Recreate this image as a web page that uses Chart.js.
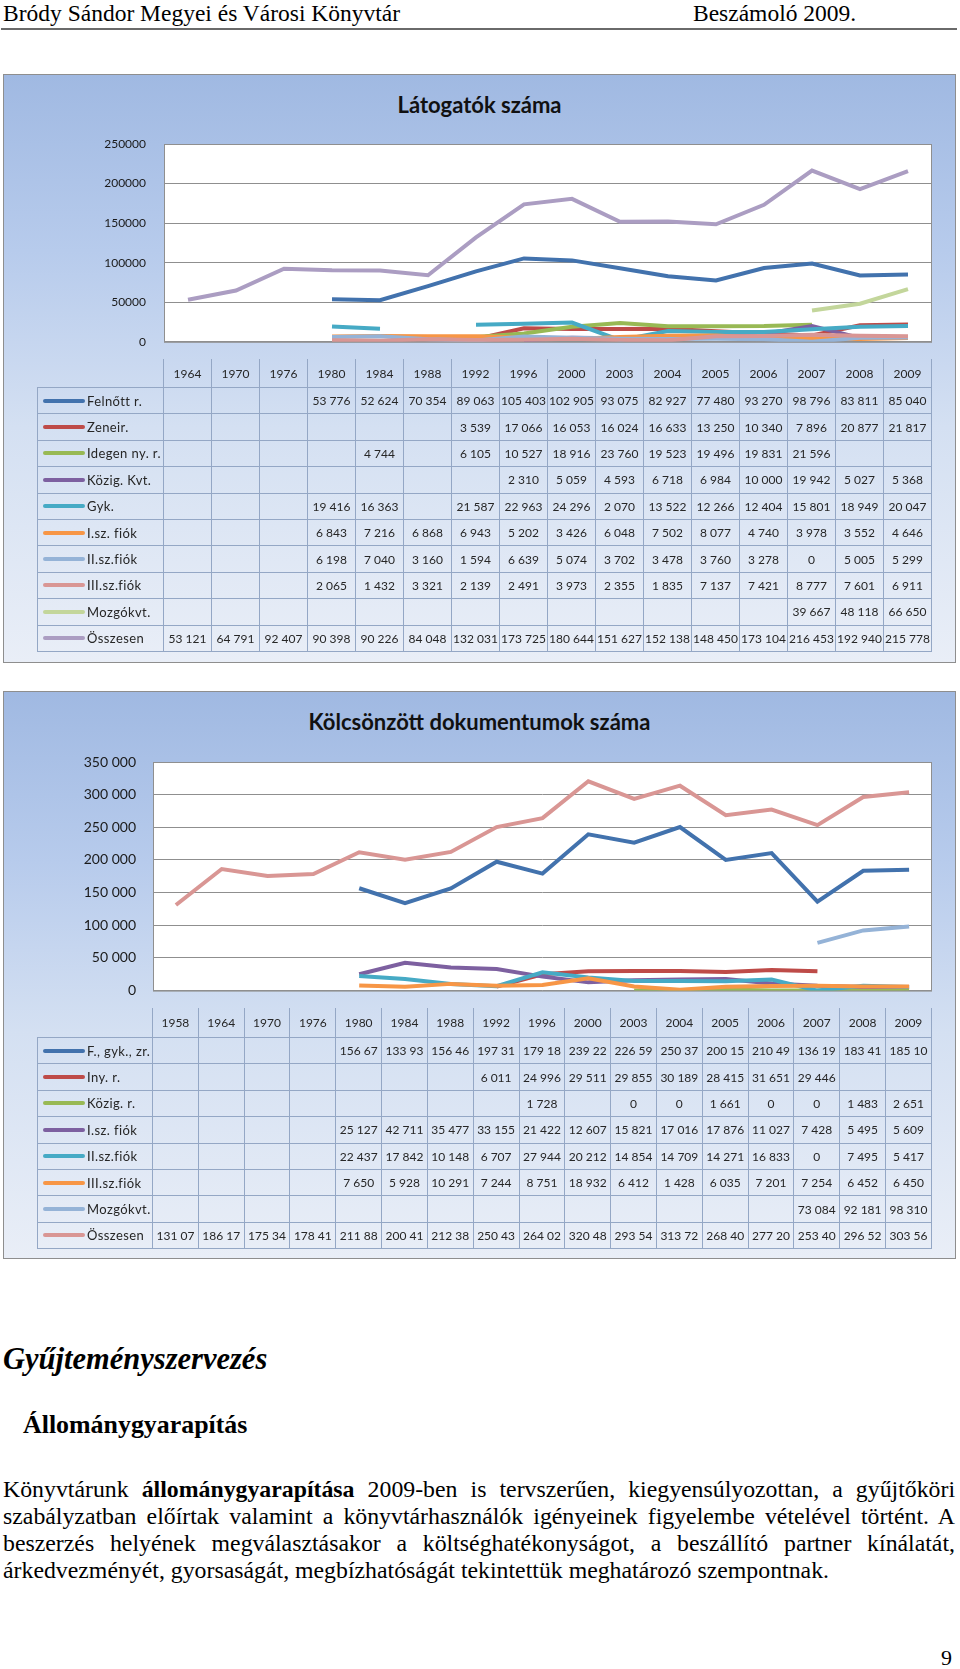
<!DOCTYPE html>
<html lang="hu">
<head>
<meta charset="utf-8">
<title>Beszámoló 2009</title>
<script src="https://cdn.jsdelivr.net/npm/chart.js@4.4.1/dist/chart.umd.min.js"></script>
<style>
  body { margin:0; width:960px; height:1669px; position:relative; overflow:hidden; background:#fff;
         font-family:"Liberation Serif","Times New Roman",serif; color:#000; }
  .abs { position:absolute; white-space:nowrap; }
  .hdr { top:0; font-size:23.5px; line-height:27px; }
  .rule { position:absolute; left:1px; top:28px; width:956px; height:2px; background:#6a6a6a; }
  .box { position:absolute; left:3px; width:951px; border:1px solid #8e8e8e;
         background:linear-gradient(#a0b9e2 0%, #b7cbec 30%, #d4e0f2 60%, #e9eef7 100%); }
  .ttl { position:absolute; left:3px; width:953px; text-align:center; font:bold 22px Lato, sans-serif; color:#111; }
  .cw { position:absolute; left:3px; width:953px; }
  .tbl { position:absolute; left:37px; display:grid; font:12px Lato, sans-serif; color:#262626; }
  .tbl div { box-sizing:border-box; border-right:1px solid #94a7c5; border-bottom:1px solid #94a7c5;
             display:flex; align-items:center; justify-content:center; white-space:nowrap; overflow:hidden; }
  .tbl div.lab { justify-content:flex-start; border-left:1px solid #94a7c5; padding-left:5px;
                 font-size:13px; letter-spacing:0.4px; }
  .sw { display:inline-block; width:42px; height:4px; border-radius:2px; margin-right:2px; flex:none; }
  .h1 { left:3px; top:1342px; font:italic bold 30.5px/34px "Liberation Serif", serif; }
  .h2 { left:23px; top:1410px; font:bold 25.9px/30px "Liberation Serif", serif; }
  .para { position:absolute; left:3px; top:1476px; width:952px; font-size:23.8px; line-height:26.9px; }
  .para .j { text-align:justify; text-align-last:justify; }
  .pg { right:8px; top:1645px; font-size:22px; line-height:26px; }
</style>
</head>
<body>
<div class="abs hdr" style="left:3px">Bródy Sándor Megyei és Városi Könyvtár</div>
<div class="abs hdr" style="left:693px">Beszámoló 2009.</div>
<div class="rule"></div>

<div class="box" style="top:74px;height:587px"></div>
<div class="ttl" style="top:91px">Látogatók száma</div>
<div class="cw" style="top:74px;height:293px"><canvas id="visitChart"></canvas></div>
<div class="tbl" id="visitTable" style="top:359px"></div>

<div class="box" style="top:691px;height:566px"></div>
<div class="ttl" style="top:708px">Kölcsönzött dokumentumok száma</div>
<div class="cw" style="top:691px;height:325px"><canvas id="loanChart"></canvas></div>
<div class="tbl" id="loanTable" style="top:1008px"></div>

<div class="abs h1">Gyűjteményszervezés</div>
<div class="abs h2">Állománygyarapítás</div>
<div class="para">
  <div class="j">Könyvtárunk <b>állománygyarapítása</b> 2009-ben is tervszerűen, kiegyensúlyozottan, a gyűjtőköri</div>
  <div class="j">szabályzatban előírtak valamint a könyvtárhasználók igényeinek figyelembe vételével történt. A</div>
  <div class="j">beszerzés helyének megválasztásakor a költséghatékonyságot, a beszállító partner kínálatát,</div>
  <div>árkedvezményét, gyorsaságát, megbízhatóságát tekintettük meghatározó szempontnak.</div>
</div>
<div class="abs pg">9</div>

<script>
/* ── Látogatók száma ── */
const VISIT_YEARS = ['1964','1970','1976','1980','1984','1988','1992','1996','2000','2003','2004','2005','2006','2007','2008','2009'];
const V_FELNOTT  = [null, null, null, 53776, 52624, 70354, 89063, 105403, 102905, 93075, 82927, 77480, 93270, 98796, 83811, 85040];
const V_ZENEI    = [null, null, null, null, null, null, 3539, 17066, 16053, 16024, 16633, 13250, 10340, 7896, 20877, 21817];
const V_IDEGEN   = [null, null, null, null, 4744, null, 6105, 10527, 18916, 23760, 19523, 19496, 19831, 21596, null, null];
const V_KOZIG    = [null, null, null, null, null, null, null, 2310, 5059, 4593, 6718, 6984, 10000, 19942, 5027, 5368];
const V_GYK      = [null, null, null, 19416, 16363, null, 21587, 22963, 24296, 2070, 13522, 12266, 12404, 15801, 18949, 20047];
const V_FIOK1    = [null, null, null, 6843, 7216, 6868, 6943, 5202, 3426, 6048, 7502, 8077, 4740, 3978, 3552, 4646];
const V_FIOK2    = [null, null, null, 6198, 7040, 3160, 1594, 6639, 5074, 3702, 3478, 3760, 3278, 0, 5005, 5299];
const V_FIOK3    = [null, null, null, 2065, 1432, 3321, 2139, 2491, 3973, 2355, 1835, 7137, 7421, 8777, 7601, 6911];
const V_MOZGO    = [null, null, null, null, null, null, null, null, null, null, null, null, null, 39667, 48118, 66650];
const V_OSSZES   = [53121, 64791, 92407, 90398, 90226, 84048, 132031, 173725, 180644, 151627, 152138, 148450, 173104, 216453, 192940, 215778];
const VISIT_TICKS = [0, 50000, 100000, 150000, 200000, 250000];

/* ── Kölcsönzött dokumentumok száma ── */
const LOAN_YEARS = ['1958','1964','1970','1976','1980','1984','1988','1992','1996','2000','2003','2004','2005','2006','2007','2008','2009'];
const K_FGYKZR  = [null, null, null, null, 156670, 133930, 156460, 197310, 179180, 239220, 226590, 250370, 200150, 210490, 136190, 183410, 185100];
const K_INY     = [null, null, null, null, null, null, null, 6011, 24996, 29511, 29855, 30189, 28415, 31651, 29446, null, null];
const K_KOZIG   = [null, null, null, null, null, null, null, null, 1728, null, 0, 0, 1661, 0, 0, 1483, 2651];
const K_FIOK1   = [null, null, null, null, 25127, 42711, 35477, 33155, 21422, 12607, 15821, 17016, 17876, 11027, 7428, 5495, 5609];
const K_FIOK2   = [null, null, null, null, 22437, 17842, 10148, 6707, 27944, 20212, 14854, 14709, 14271, 16833, 0, 7495, 5417];
const K_FIOK3   = [null, null, null, null, 7650, 5928, 10291, 7244, 8751, 18932, 6412, 1428, 6035, 7201, 7254, 6452, 6450];
const K_MOZGO   = [null, null, null, null, null, null, null, null, null, null, null, null, null, null, 73084, 92181, 98310];
const K_OSSZES  = [131070, 186170, 175340, 178410, 211880, 200410, 212380, 250430, 264020, 320480, 293540, 313720, 268400, 277200, 253400, 296520, 303560];
const LOAN_TICKS = [0, 50000, 100000, 150000, 200000, 250000, 300000, 350000];

const BLUE = '#4272ad', RED = '#be4b48', GREEN = '#98b954', PURPLE = '#7d60a0',
      AQUA = '#46aac5', ORANGE = '#f79646', LBLUE = '#95b3d7', PINK = '#d99694',
      LGREEN = '#c3d69b', LPURPLE = '#ab9dc2';

const VISIT_SERIES = [
  { name: 'Felnőtt r.',     color: BLUE,    data: V_FELNOTT },
  { name: 'Zeneir.',        color: RED,     data: V_ZENEI },
  { name: 'Idegen ny. r.',  color: GREEN,   data: V_IDEGEN },
  { name: 'Közig. Kvt.',    color: PURPLE,  data: V_KOZIG },
  { name: 'Gyk.',           color: AQUA,    data: V_GYK },
  { name: 'I.sz. fiók',     color: ORANGE,  data: V_FIOK1 },
  { name: 'II.sz.fiók',     color: LBLUE,   data: V_FIOK2 },
  { name: 'III.sz.fiók',    color: PINK,    data: V_FIOK3 },
  { name: 'Mozgókvt.',      color: LGREEN,  data: V_MOZGO },
  { name: 'Összesen',       color: LPURPLE, data: V_OSSZES },
];

const LOAN_SERIES = [
  { name: 'F., gyk., zr.',  color: BLUE,    data: K_FGYKZR },
  { name: 'Iny. r.',        color: RED,     data: K_INY },
  { name: 'Közig. r.',      color: GREEN,   data: K_KOZIG },
  { name: 'I.sz. fiók',     color: PURPLE,  data: K_FIOK1 },
  { name: 'II.sz.fiók',     color: AQUA,    data: K_FIOK2 },
  { name: 'III.sz.fiók',    color: ORANGE,  data: K_FIOK3 },
  { name: 'Mozgókvt.',      color: LBLUE,   data: K_MOZGO },
  { name: 'Összesen',       color: PINK,    data: K_OSSZES },
];

const GRID = '#8f8f8f';

/* ── Segédfüggvények ── */
function spaced(v) {
  return String(v).replace(/\B(?=(\d{3})+(?!\d))/g, ' ');
}
// Excel levágja a túl széles cellaszöveget
function clipped(v) {
  return spaced(v).slice(0, 6).trim();
}

const plotBox = {
  id: 'plotBox',
  beforeDraw(chart) {
    const a = chart.chartArea, ctx = chart.ctx;
    ctx.save();
    ctx.fillStyle = '#fff';
    ctx.fillRect(a.left, a.top, a.right - a.left, a.bottom - a.top);
    ctx.restore();
  },
  beforeDatasetsDraw(chart) {
    const a = chart.chartArea, ctx = chart.ctx;
    ctx.save();
    ctx.strokeStyle = GRID;
    ctx.lineWidth = 1;
    ctx.strokeRect(a.left + 0.5, a.top + 0.5, a.right - a.left - 1, a.bottom - a.top);
    ctx.restore();
  },
};

function initLines(id, years, series, ticks, opts) {
  const n = series.length;
  new Chart(document.getElementById(id), {
    type: 'line',
    data: {
      labels: years,
      datasets: series.map((s, i) => ({
        label: s.name,
        data: s.data,
        borderColor: s.color,
        borderWidth: 4,
        pointRadius: 0,
        tension: 0,
        spanGaps: false,
        order: n - i,
      })),
    },
    options: {
      responsive: true,
      maintainAspectRatio: false,
      animation: false,
      layout: { padding: { top: opts.top, bottom: 8, left: 0, right: 24 } },
      plugins: { legend: { display: false }, tooltip: { enabled: false } },
      scales: {
        x: { display: false, offset: true },
        y: {
          min: ticks[0],
          max: ticks[ticks.length - 1],
          afterBuildTicks: scale => { scale.ticks = ticks.map(v => ({ value: v })); },
          afterFit: scale => { scale.width = opts.axisW; },
          ticks: { padding: opts.pad, color: '#1a1a1a', font: { size: opts.font, family: 'Lato, sans-serif' }, callback: opts.fmt },
          grid: { color: GRID, drawTicks: false },
          border: { display: false },
        },
      },
    },
    plugins: [plotBox],
  });
}

function renderTable(id, years, series, firstW, colW, headH, rowH, fmt) {
  const el = document.getElementById(id);
  el.style.gridTemplateColumns = `${firstW}px repeat(${years.length}, ${colW}px)`;
  el.style.gridTemplateRows = `${headH}px repeat(${series.length}, ${rowH}px)`;
  let html = '<div class="corner"></div>';
  years.forEach(y => { html += `<div>${y}</div>`; });
  series.forEach(s => {
    html += `<div class="lab"><span class="sw" style="background:${s.color}"></span>${s.name}</div>`;
    s.data.forEach(v => { html += `<div>${v === null ? '' : fmt(v)}</div>`; });
  });
  el.innerHTML = html;
}

document.addEventListener('DOMContentLoaded', () => {
  initLines('visitChart', VISIT_YEARS, VISIT_SERIES, VISIT_TICKS,
    { top: 70, axisW: 161, pad: 18, font: 12, fmt: v => String(v) });
  initLines('loanChart', LOAN_YEARS, LOAN_SERIES, LOAN_TICKS,
    { top: 71, axisW: 150, pad: 17, font: 14, fmt: v => spaced(v) });
  renderTable('visitTable', VISIT_YEARS, VISIT_SERIES, 127, 48, 29, 26.4, spaced);
  renderTable('loanTable', LOAN_YEARS, LOAN_SERIES, 116, 779 / 17, 30, 26.4, clipped);
});
</script>
</body>
</html>
